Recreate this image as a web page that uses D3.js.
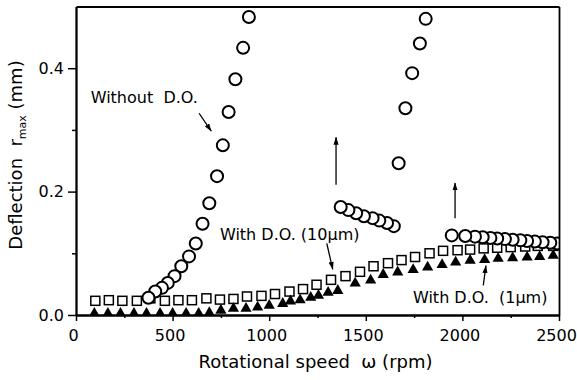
<!DOCTYPE html>
<html>
<head>
<meta charset="utf-8">
<script src="https://cdn.jsdelivr.net/npm/d3@7"></script>
<style>
  html, body { margin: 0; padding: 0; background: #fff; }
  svg { display: block; font-family: "DejaVu Sans", sans-serif; }
  text { fill: #000; }
</style>
</head>
<body>
<svg id="chart" width="577" height="380"></svg>
<script>
// Maximum deflection vs rotational speed, with and without the damping option (D.O.)

// Without D.O. (open circles)
const circleRpm = [375, 410, 445, 475, 510, 545, 585, 620, 655, 690, 730, 760, 790, 825, 865, 895,
                   1370, 1410, 1450, 1490, 1535, 1570, 1610, 1645,
                   1670, 1705, 1740, 1780, 1810,
                   1945, 2015, 2065, 2105, 2145, 2180, 2220, 2260, 2300, 2335, 2375, 2415, 2455, 2490];
const circleVal = [0.028, 0.038, 0.044, 0.052, 0.063, 0.079, 0.095, 0.116, 0.148, 0.181, 0.225, 0.275, 0.329, 0.382, 0.433, 0.483,
                   0.175, 0.170, 0.165, 0.160, 0.157, 0.153, 0.149, 0.144,
                   0.246, 0.335, 0.392, 0.440, 0.480,
                   0.129, 0.128, 0.127, 0.126, 0.125, 0.124, 0.123, 0.122, 0.121, 0.120, 0.119, 0.118, 0.117, 0.116];

// With D.O. (10 µm) (open squares)
const squareRpm = [100, 170, 240, 315, 385, 460, 530, 600, 675, 745, 815, 885, 960, 1030, 1105, 1175, 1245,
                   1320, 1395, 1470, 1540, 1615, 1685, 1755, 1830, 1900, 1975, 2040, 2110, 2180, 2250, 2325, 2390, 2470];
const squareVal = [0.023, 0.024, 0.023, 0.023, 0.027, 0.023, 0.024, 0.024, 0.027, 0.025, 0.026, 0.030, 0.031, 0.034, 0.038, 0.042, 0.049,
                   0.057, 0.063, 0.070, 0.079, 0.084, 0.089, 0.094, 0.100, 0.104, 0.105, 0.106, 0.108, 0.109, 0.110, 0.111, 0.112, 0.112];

// With D.O. (1 µm) (filled triangles)
const triRpm = [95, 165, 230, 300, 365, 435, 500, 570, 635, 690, 750, 815, 880, 940, 1000, 1070, 1110, 1160, 1215, 1255,
                1305, 1355, 1445, 1525, 1590, 1665, 1745, 1820, 1895, 1965, 2040, 2115, 2185, 2260, 2335, 2400, 2470];
const triVal = [0.003, 0.003, 0.003, 0.003, 0.003, 0.003, 0.003, 0.003, 0.003, 0.004, 0.008, 0.011, 0.011, 0.013, 0.016, 0.019, 0.023, 0.025, 0.029, 0.032,
                0.037, 0.040, 0.052, 0.057, 0.066, 0.070, 0.074, 0.078, 0.082, 0.086, 0.089, 0.090, 0.092, 0.093, 0.094, 0.095, 0.097];

// Axis ticks and labels
const xTicks = [0, 500, 1000, 1500, 2000, 2500];
const xMinorTicks = [250, 750, 1250, 1750, 2250];
const yTicks = [0.0, 0.2, 0.4];
const yMinorTicks = [0.1, 0.3];
const xTitle = "Rotational speed  ω (rpm)";
const yTitle = ["Deflection  r", "max", " (mm)"];

// Annotation texts and arrows, placed in data units
const labels = [
  { text: "Without  D.O.", rpm: 76, val: 0.343 },
  { text: "With D.O. (10μm)", rpm: 745, val: 0.1215 },
  { text: "With D.O.  (1μm)", rpm: 1744, val: 0.019 }
];
const arrows = [
  { from: [637, 0.327], to: [700, 0.298] },
  { from: [1346, 0.211], to: [1346, 0.288] },
  { from: [1962, 0.157], to: [1962, 0.214] },
  { from: [1298, 0.116], to: [1329, 0.074] },
  { from: [2108, 0.048], to: [2122, 0.080] }
];

const svg = d3.select("#chart");
const x = d3.scaleLinear().domain([0, 2500]).range([76, 559]);
const y = d3.scaleLinear().domain([0, 0.5]).range([315, 6.5]);

svg.append("rect").attr("width", 577).attr("height", 380).attr("fill", "#fff");

svg.append("defs").append("clipPath").attr("id", "plot-clip")
  .append("rect")
  .attr("x", x.range()[0]).attr("y", y.range()[1])
  .attr("width", x.range()[1] - x.range()[0])
  .attr("height", y.range()[0] - y.range()[1]);

const marker = svg.select("defs").append("marker")
  .attr("id", "arrowhead")
  .attr("viewBox", "0 -3 8 6")
  .attr("refX", 7.5).attr("refY", 0)
  .attr("markerWidth", 8).attr("markerHeight", 6)
  .attr("markerUnits", "userSpaceOnUse")
  .attr("orient", "auto");
marker.append("path").attr("d", "M0,-2.6L8,0L0,2.6Z").attr("fill", "#000");

const plot = svg.append("g").attr("clip-path", "url(#plot-clip)");

// squares
plot.append("g")
  .selectAll("rect")
  .data(d3.zip(squareRpm, squareVal))
  .join("rect")
  .attr("x", d => x(d[0]) - 4.5)
  .attr("y", d => y(d[1]) - 4.5)
  .attr("width", 9).attr("height", 9)
  .attr("fill", "#fff").attr("stroke", "#000").attr("stroke-width", 1.5);

// triangles
const tri = "M0,-6.2L5.6,3.6L-5.6,3.6Z";
plot.append("g")
  .selectAll("path")
  .data(d3.zip(triRpm, triVal))
  .join("path")
  .attr("d", tri)
  .attr("transform", d => `translate(${x(d[0])},${y(d[1])})`)
  .attr("fill", "#000");

// circles: drawn right to left so each left-hand circle sits on top
plot.append("g")
  .selectAll("circle")
  .data(d3.zip(circleRpm, circleVal).reverse())
  .join("circle")
  .attr("cx", d => x(d[0]))
  .attr("cy", d => y(d[1]))
  .attr("r", 6)
  .attr("fill", "#fff").attr("stroke", "#000").attr("stroke-width", 2);

// axes
function styleAxis(g) {
  g.attr("font-family", "DejaVu Sans, sans-serif").attr("font-size", 16);
  g.select(".domain").attr("stroke", "#000").attr("stroke-width", 1.8);
  g.selectAll(".tick line").attr("stroke", "#000").attr("stroke-width", 1.5);
  g.selectAll(".tick text").attr("fill", "#000");
}
const y0 = y.range()[0], x0 = x.range()[0];

svg.append("g").attr("transform", `translate(0,${y0})`)
  .call(d3.axisBottom(x).tickValues(xMinorTicks).tickSize(3).tickSizeOuter(0).tickFormat(""))
  .call(styleAxis);
svg.append("g").attr("transform", `translate(0,${y0})`)
  .call(d3.axisBottom(x).tickValues(xTicks).tickSize(6).tickSizeOuter(0).tickPadding(9).tickFormat(d3.format("d")))
  .call(styleAxis)
  .call(g => g.selectAll(".tick text").attr("dx", -3));

svg.append("g").attr("transform", `translate(${x0},0)`)
  .call(d3.axisLeft(y).tickValues(yMinorTicks).tickSize(4).tickSizeOuter(0).tickFormat(""))
  .call(styleAxis);
svg.append("g").attr("transform", `translate(${x0},0)`)
  .call(d3.axisLeft(y).tickValues(yTicks).tickSize(8).tickSizeOuter(0).tickPadding(4).tickFormat(d3.format(".1f")))
  .call(styleAxis);

// frame top and right
svg.append("g").attr("transform", `translate(0,${y.range()[1]})`)
  .call(d3.axisTop(x).tickValues([]).tickSizeOuter(0))
  .call(styleAxis);
svg.append("g").attr("transform", `translate(${x.range()[1]},0)`)
  .call(d3.axisRight(y).tickValues([]).tickSizeOuter(0))
  .call(styleAxis);

// axis titles
svg.append("text")
  .attr("x", (x.range()[0] + x.range()[1]) / 2 - 2)
  .attr("y", 368)
  .attr("text-anchor", "middle")
  .attr("font-size", 18)
  .style("white-space", "pre")
  .text(xTitle);

const yt = svg.append("text")
  .attr("transform", "translate(22,155) rotate(-90)")
  .attr("text-anchor", "middle")
  .attr("font-size", 18)
  .style("white-space", "pre");
yt.append("tspan").text(yTitle[0]);
yt.append("tspan").attr("font-size", 11).attr("dy", 4).text(yTitle[1]);
yt.append("tspan").attr("dy", -4).text(yTitle[2]);

// annotations
svg.append("g")
  .selectAll("text")
  .data(labels)
  .join("text")
  .attr("x", d => x(d.rpm))
  .attr("y", d => y(d.val))
  .attr("font-size", 16)
  .style("white-space", "pre")
  .text(d => d.text);

svg.append("g")
  .selectAll("line")
  .data(arrows)
  .join("line")
  .attr("x1", d => x(d.from[0])).attr("y1", d => y(d.from[1]))
  .attr("x2", d => x(d.to[0])).attr("y2", d => y(d.to[1]))
  .attr("stroke", "#000").attr("stroke-width", 1.3)
  .attr("marker-end", "url(#arrowhead)");
</script>
</body>
</html>
